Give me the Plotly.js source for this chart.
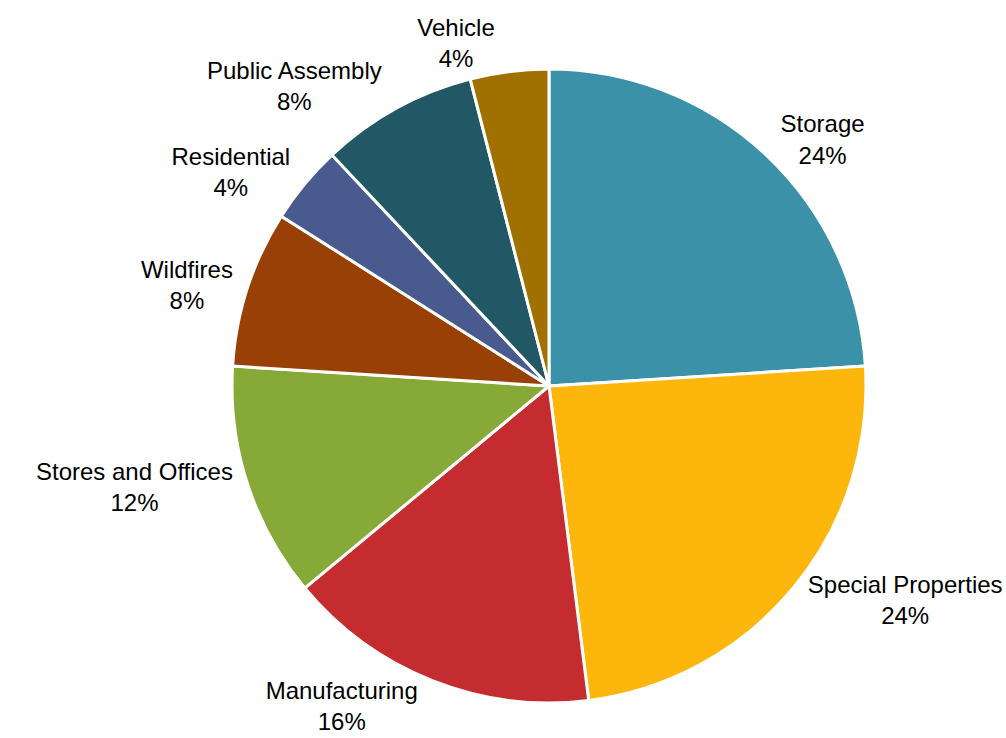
<!DOCTYPE html>
<html>
<head>
<meta charset="utf-8">
<script src="https://cdn.plot.ly/plotly-3.0.1.min.js"></script>
<style>html,body{margin:0;padding:0;background:#fff;}#chart{width:1006px;height:738px;}</style>
</head>
<body>
<div id="chart"></div>
<script>
const categories = ["Storage", "Special Properties", "Manufacturing", "Stores and Offices", "Wildfires", "Residential", "Public Assembly", "Vehicle"];
const shares = [24, 24, 16, 12, 8, 4, 8, 4];
const colors = ["#3A91A8", "#FDB60C", "#C42C30", "#86A937", "#984006", "#485A8E", "#225865", "#A07100"];

const labelFont = {family: "Liberation Sans, Arial, sans-serif", size: 24, color: "#000000"};

// Slices
const slices = {
  type: "pie",
  labels: categories,
  values: shares,
  sort: false,
  direction: "clockwise",
  rotation: 0,
  marker: {colors: colors, line: {color: "#FFFFFF", width: 3}},
  textinfo: "none",
  hoverinfo: "label+percent",
  showlegend: false
};

// One transparent overlay per category carrying only its outside label,
// so each label sits at its own slice without being stacked by the others.
const labelTraces = categories.map(function (name, k) {
  return {
    type: "pie",
    labels: categories,
    values: shares,
    sort: false,
    direction: "clockwise",
    rotation: 0,
    marker: {colors: categories.map(function () { return "rgba(0,0,0,0)"; }), line: {width: 0}},
    textposition: "outside",
    texttemplate: categories.map(function (c, i) { return i === k ? "%{label}<br>%{percent:.0%}" : ""; }),
    textfont: labelFont,
    hoverinfo: "skip",
    showlegend: false
  };
});

const layout = {
  width: 1006,
  height: 738,
  margin: {l: 92, r: 0, t: 69, b: 35},
  paper_bgcolor: "#FFFFFF",
  plot_bgcolor: "#FFFFFF",
  showlegend: false
};

Plotly.newPlot("chart", [slices].concat(labelTraces), layout, {displayModeBar: false, staticPlot: true}).then(function () {
  document.querySelectorAll("path.textline").forEach(function (p) { p.remove(); });
});
</script>
</body>
</html>
